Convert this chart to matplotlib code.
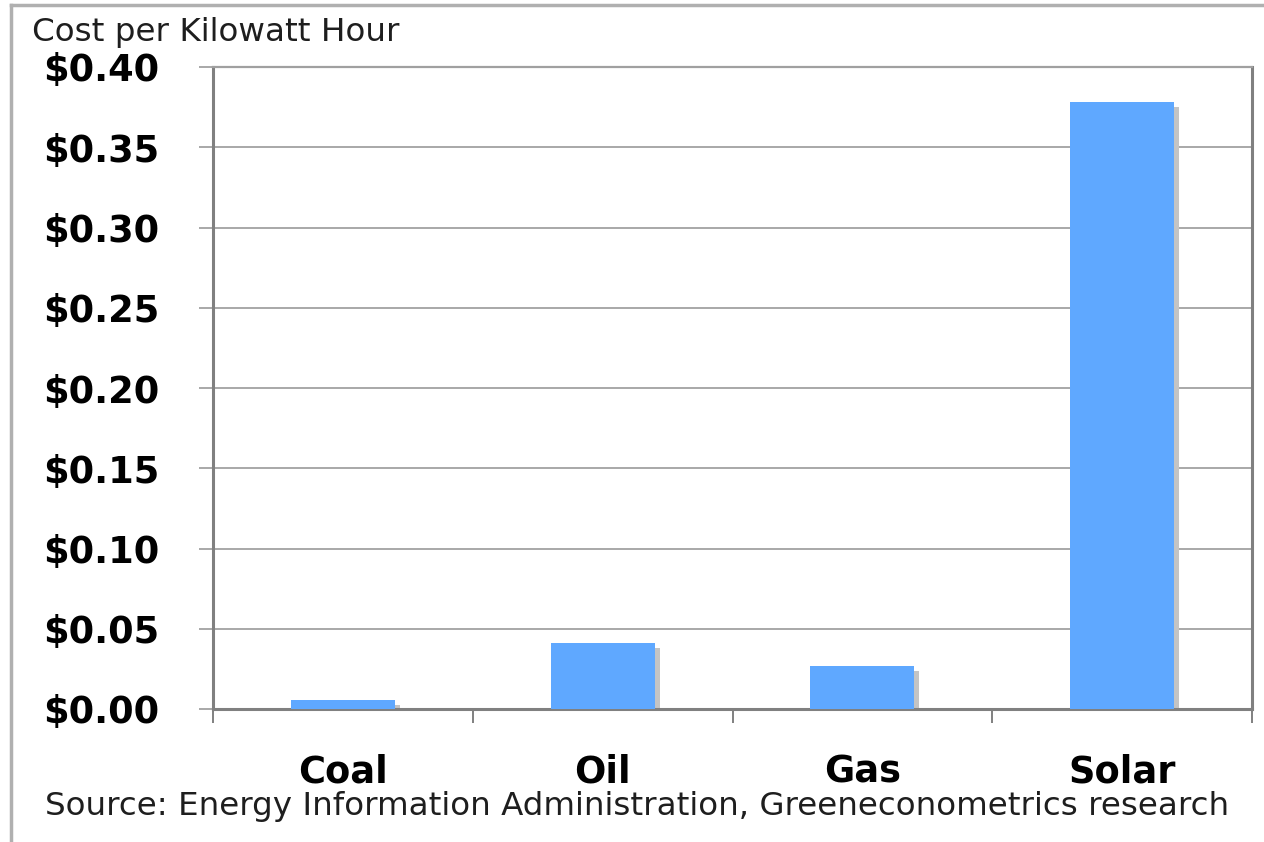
import matplotlib
matplotlib.use("Agg")
import matplotlib.pyplot as plt
import matplotlib.transforms as mtransforms
from matplotlib.lines import Line2D
import numpy as np

categories = ["Coal", "Oil", "Gas", "Solar"]
costs = [0.0055, 0.041, 0.027, 0.378]
yticks = [0.00, 0.05, 0.10, 0.15, 0.20, 0.25, 0.30, 0.35, 0.40]
ytick_labels = ["$0.00", "$0.05", "$0.10", "$0.15", "$0.20", "$0.25", "$0.30", "$0.35", "$0.40"]
title_text = "Cost per Kilowatt Hour"
source_text = "Source: Energy Information Administration, Greeneconometrics research"

W, H = 1264, 842
fig = plt.figure(figsize=(W / 100, H / 100), dpi=100)
fig.patch.set_facecolor("white")

ax = fig.add_axes([213 / W, 1 - 709 / H, (1252 - 213) / W, (709 - 67) / H])

x = np.arange(len(categories))
bar_w = 0.4
shadow_tr = ax.transData + mtransforms.ScaledTranslation(5 / 100, -5 / 100, fig.dpi_scale_trans)
ax.bar(x, costs, width=bar_w, color="#c4c4c4", transform=shadow_tr, zorder=2)
ax.bar(x, costs, width=bar_w, color="#5fa8ff", zorder=3)

ax.set_xlim(-0.5, 3.5)
ax.set_ylim(0, 0.40)

ax.set_yticks(yticks)
ax.set_yticklabels(ytick_labels, fontsize=26.5, fontweight="bold")
ax.yaxis.grid(True, color="#a8a8a8", linewidth=1.4, zorder=1)
ax.set_axisbelow(True)
ax.tick_params(axis="y", length=10, width=1.4, color="#a8a8a8", pad=28.5)

ax.set_xticks(x)
ax.set_xticklabels(categories, fontsize=26.5, fontweight="bold")
ax.set_xticks(np.arange(-0.5, 3.6, 1.0), minor=True)
ax.tick_params(axis="x", which="major", length=0, pad=32)
ax.tick_params(axis="x", which="minor", length=10, width=1.4, color="#808080")

for side in ["left", "right", "top", "bottom"]:
    ax.spines[side].set_color("#808080")
    ax.spines[side].set_linewidth(2.2)
ax.spines["top"].set_color("#a0a0a0")
ax.spines["top"].set_linewidth(1.6)

fig.text(32 / W, 1 - 32 / H, title_text, fontsize=23.4, va="center", ha="left", color="#1e1e1e")
fig.text(45 / W, 1 - 806 / H, source_text, fontsize=23.4, va="center", ha="left", color="#1e1e1e")

# outer frame lines (left and top)
fig.add_artist(Line2D([11 / W, 11 / W], [0, 1 - 5 / H], transform=fig.transFigure, color="#b0b0b0", linewidth=2.5))
fig.add_artist(Line2D([11 / W, 1], [1 - 5 / H, 1 - 5 / H], transform=fig.transFigure, color="#b0b0b0", linewidth=2.5))

fig.savefig("out.png", dpi=100, facecolor="white")
